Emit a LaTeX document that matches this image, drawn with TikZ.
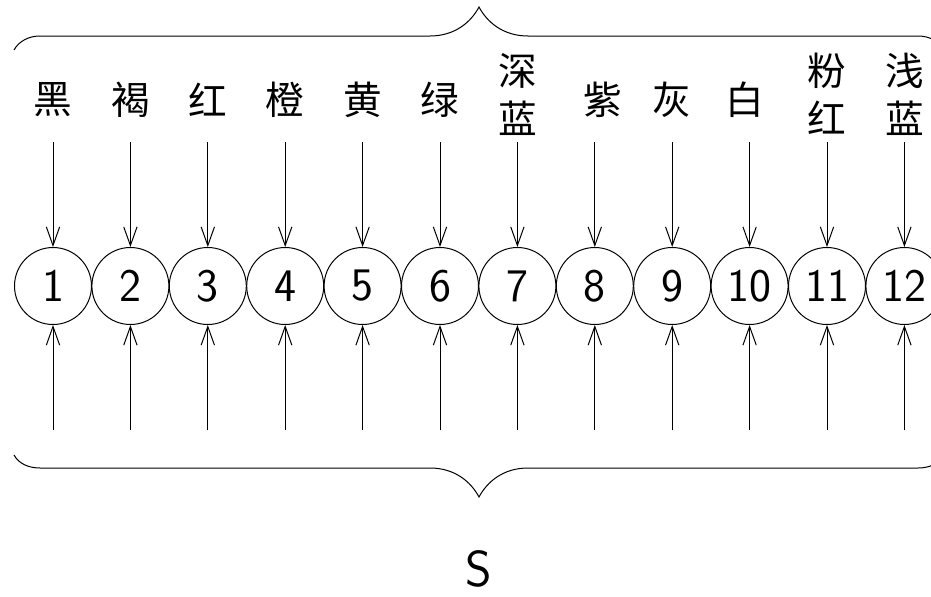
\documentclass[tikz,border=0pt]{standalone}
\usepackage{fontspec}
\newfontfamily\cjk{Noto Sans CJK SC}
\usetikzlibrary{arrows.meta}
\tikzset{every picture/.style={line width=0.75pt}}
\tikzset{
  pin/.style={circle,draw,minimum size=57.75pt,inner sep=0pt,font=\sffamily\fontsize{35}{35}\selectfont},
  colour/.style={inner sep=0pt,align=center,font=\cjk\fontsize{29}{36}\selectfont},
  wire/.style={-{Straight Barb[length=14pt,width=10pt]}},
  brace/.style={line width=0.75pt}
}

\begin{document}
\begin{tikzpicture}[x=0.75pt,y=0.75pt,yscale=-1,xscale=1]
\useasboundingbox (0,0) rectangle (931,596);

% Brace
\draw [brace] (14,50) .. controls (19,41) and (29,36) .. (40,36) -- (430,36) .. controls (455,36) and (471,22) .. (479,7) .. controls (487,22) and (503,36) .. (528,36) -- (918,36) .. controls (929,36) and (939,41) .. (944,50);
% Brace
\draw [brace] (14,455) .. controls (19,464) and (29,468) .. (40,468) -- (430,468) .. controls (455,468) and (471,482) .. (479,497) .. controls (487,482) and (503,468) .. (528,468) -- (918,468) .. controls (929,468) and (939,464) .. (944,455);

% Text Node
\node [pin] (c1) at (53,286) {1};
\node [pin] (c2) at (130.4,286) {2};
\node [pin] (c3) at (207.8,286) {3};
\node [pin] (c4) at (285.2,286) {4};
\node [pin] (c5) at (362.6,286) {5};
\node [pin] (c6) at (440,286) {6};
\node [pin] (c7) at (517.4,286) {7};
\node [pin] (c8) at (594.8,286) {8};
\node [pin] (c9) at (672.2,286) {9};
\node [pin] (c10) at (749.6,286) {10};
\node [pin] (c11) at (827,286) {11};
\node [pin] (c12) at (904.4,286) {12};

% Text Node
\node [colour] (l1) at (53,100) {黑};
\node [colour] (l2) at (130.4,100) {褐};
\node [colour] (l3) at (207.8,100) {红};
\node [colour] (l4) at (285.2,100) {橙};
\node [colour] (l5) at (362.6,100) {黄};
\node [colour] (l6) at (440,100) {绿};
\node [colour] (l7) at (517.4,94) {深\\蓝};
\node [colour] (l8) at (603,100) {紫};
\node [colour] (l9) at (672.2,100) {灰};
\node [colour] (l10) at (745,100) {白};
\node [colour] (l11) at (827,94) {粉\\红};
\node [colour] (l12) at (904.4,94) {浅\\蓝};

% Text Node
\node [inner sep=0pt] (s) at (479,569) {\sffamily\fontsize{38}{38}\selectfont S};

% Connection
\coordinate (t1) at (53,142);
\coordinate (t2) at (130.4,142);
\coordinate (t3) at (207.8,142);
\coordinate (t4) at (285.2,142);
\coordinate (t5) at (362.6,142);
\coordinate (t6) at (440,142);
\coordinate (t7) at (517.4,142);
\coordinate (t8) at (594.8,142);
\coordinate (t9) at (672.2,142);
\coordinate (t10) at (749.6,142);
\coordinate (t11) at (827,142);
\coordinate (t12) at (904.4,142);
\draw [wire] (t1) -- (c1);
\draw [wire] (t2) -- (c2);
\draw [wire] (t3) -- (c3);
\draw [wire] (t4) -- (c4);
\draw [wire] (t5) -- (c5);
\draw [wire] (t6) -- (c6);
\draw [wire] (t7) -- (c7);
\draw [wire] (t8) -- (c8);
\draw [wire] (t9) -- (c9);
\draw [wire] (t10) -- (c10);
\draw [wire] (t11) -- (c11);
\draw [wire] (t12) -- (c12);

% Connection
\coordinate (b1) at (53,430);
\coordinate (b2) at (130.4,430);
\coordinate (b3) at (207.8,430);
\coordinate (b4) at (285.2,430);
\coordinate (b5) at (362.6,430);
\coordinate (b6) at (440,430);
\coordinate (b7) at (517.4,430);
\coordinate (b8) at (594.8,430);
\coordinate (b9) at (672.2,430);
\coordinate (b10) at (749.6,430);
\coordinate (b11) at (827,430);
\coordinate (b12) at (904.4,430);
\draw [wire] (b1) -- (c1);
\draw [wire] (b2) -- (c2);
\draw [wire] (b3) -- (c3);
\draw [wire] (b4) -- (c4);
\draw [wire] (b5) -- (c5);
\draw [wire] (b6) -- (c6);
\draw [wire] (b7) -- (c7);
\draw [wire] (b8) -- (c8);
\draw [wire] (b9) -- (c9);
\draw [wire] (b10) -- (c10);
\draw [wire] (b11) -- (c11);
\draw [wire] (b12) -- (c12);

\end{tikzpicture}
\end{document}
